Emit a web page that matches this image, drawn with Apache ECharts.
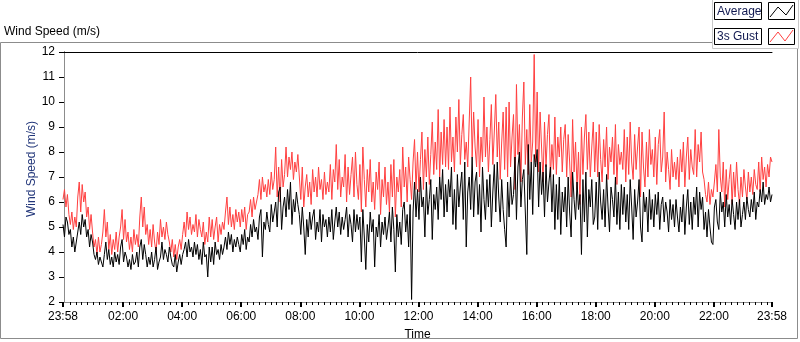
<!DOCTYPE html>
<html><head><meta charset="utf-8">
<script src="https://cdn.jsdelivr.net/npm/echarts@6/dist/echarts.min.js"></script>
<style>html,body{margin:0;padding:0;background:#fff}#c{width:800px;height:342px}</style>
</head><body><div id="c"></div>
<script>
// Samples every 3 minutes, starting at 23:58 (minute -2 of the day); one row per hour
const startMin = -2, stepMin = 3;
const avgSpeed = [
5.1,4.6,5.4,5.2,4.7,4.9,4.2,4.6,4.0,4.4,4.8,5.2,4.7,5.5,5.0,5.3,4.6,4.9,4.2,4.7,
4.4,3.9,3.7,4.0,3.5,3.8,3.6,3.4,3.9,4.4,3.7,4.1,3.5,3.8,3.4,4.0,3.6,3.9,3.5,4.2,
4.5,3.6,4.0,3.8,3.4,3.7,3.3,3.9,3.5,3.6,4.0,3.4,4.2,4.5,3.7,4.3,3.9,3.4,3.8,3.5,
4.0,3.4,3.7,4.2,3.3,3.6,3.8,4.4,3.7,4.1,3.9,3.6,4.2,3.8,3.5,3.4,3.9,3.2,3.6,3.9,
3.5,3.9,4.1,4.4,3.8,4.5,4.0,4.2,3.8,4.4,3.9,4.3,3.7,4.1,3.5,4.4,3.8,3.9,3.0,4.2,
3.6,4.2,3.5,4.4,3.9,4.1,3.7,4.3,3.9,4.2,4.6,4.1,4.8,4.3,4.7,4.0,4.5,4.2,4.6,4.3,
4.0,4.7,4.3,4.9,4.1,4.6,4.4,5.1,4.6,5.3,4.8,5.0,4.5,5.4,5.7,3.8,5.2,4.9,5.6,5.1,
4.8,5.9,5.2,5.6,6.0,5.0,6.4,6.6,4.9,5.8,6.2,5.4,6.5,5.7,6.8,5.1,6.1,5.6,6.4,5.9,
5.5,4.7,5.8,5.0,3.9,5.3,4.6,5.6,4.9,5.4,5.7,4.5,5.2,4.8,5.7,4.4,5.5,5.0,5.3,4.6,
5.4,4.8,5.7,4.5,5.2,5.8,5.0,5.6,4.7,5.4,4.9,5.3,5.8,4.6,5.5,5.1,4.4,5.7,4.8,5.5,
4.9,5.4,3.6,5.7,4.6,3.3,5.1,4.4,5.6,4.8,5.3,3.4,5.0,4.6,5.5,4.2,5.2,4.7,5.4,4.5,
5.0,5.6,4.4,5.8,4.9,3.2,5.5,4.6,5.2,4.3,5.7,6.0,4.8,5.5,4.2,5.9,2.1,5.6,6.8,5.4,
6.5,5.3,7.0,5.8,6.2,4.6,6.8,5.5,6.1,6.9,4.5,6.3,5.7,6.6,5.3,7.0,6.1,7.3,5.4,6.7,
5.6,6.9,6.2,7.4,5.1,6.5,4.9,7.1,5.8,6.6,7.2,5.3,7.6,4.2,6.4,7.0,5.7,7.8,5.4,6.8,
7.2,5.5,6.7,4.8,7.4,6.1,5.3,6.9,5.8,7.1,5.0,6.4,7.5,5.6,7.6,6.2,5.2,6.9,5.7,4.9,
4.2,6.8,5.4,7.0,5.9,6.3,7.8,5.3,7.4,8.0,5.8,6.9,7.3,5.6,3.9,8.3,6.1,7.6,5.5,7.9,
7.4,8.1,5.8,7.6,6.3,7.2,5.4,7.5,6.0,6.8,7.4,5.6,7.1,4.9,6.7,5.3,7.0,4.7,6.4,5.6,
6.6,5.0,7.0,5.6,4.6,7.2,6.1,5.3,6.8,5.7,6.3,3.9,6.9,5.2,7.2,4.6,6.5,5.8,6.9,5.1,
5.4,6.8,4.9,7.2,6.0,5.3,6.5,5.0,7.1,5.8,4.8,6.6,6.1,5.4,7.0,5.1,6.4,4.9,6.7,5.5,
6.6,5.2,6.3,4.9,6.9,5.8,4.5,6.5,5.4,6.0,6.9,5.0,4.4,6.4,5.6,6.2,4.8,6.5,5.3,6.1,
5.0,6.3,5.5,6.4,4.9,5.9,6.2,5.2,6.0,5.6,4.8,6.1,5.3,5.9,5.0,6.1,5.4,4.8,5.8,5.2,
6.3,4.7,5.8,6.5,5.1,6.0,4.9,6.2,5.5,6.6,5.0,6.4,5.7,6.2,4.9,5.6,4.6,5.7,5.0,4.4,
4.3,5.8,6.1,5.2,4.9,6.4,5.6,6.0,5.0,6.3,5.4,5.9,5.1,6.1,5.5,4.9,6.0,5.3,6.1,5.0,
5.5,6.0,5.3,6.2,5.7,5.4,6.1,5.6,6.4,5.3,6.0,5.8,6.5,6.0,6.8,5.9,6.3,6.1,6.6,6.0,6.3
];
const gustSpeed = [
6.1,6.5,5.8,6.3,5.5,5.1,5.6,4.9,5.4,5.0,6.2,6.8,5.6,6.7,6.0,6.4,5.4,5.8,4.9,5.5,
4.8,4.2,4.5,3.9,4.6,4.0,4.3,4.8,5.7,4.6,5.2,4.1,4.7,3.9,4.5,4.1,4.8,4.0,4.6,5.0,
5.7,4.5,5.3,4.4,4.8,4.1,4.6,4.0,4.9,4.3,4.7,4.2,5.4,6.2,5.0,5.8,4.7,5.1,4.3,4.9,
4.2,5.1,4.4,4.0,4.8,4.3,5.3,4.6,5.0,4.5,5.2,4.7,4.4,4.0,4.5,3.8,4.3,3.7,4.2,4.5,
4.1,4.7,5.2,4.6,5.6,4.9,5.4,4.7,5.1,4.8,5.5,4.6,5.3,4.9,4.6,5.2,4.3,4.8,4.4,5.4,
4.6,5.3,4.5,5.0,5.4,4.4,5.1,4.7,5.2,4.9,5.6,6.2,5.1,5.8,5.0,5.5,4.9,5.7,5.2,5.6,
5.0,5.7,5.2,5.8,4.9,5.5,5.6,6.1,5.4,6.2,5.7,6.0,6.3,6.9,6.1,7.0,6.4,6.7,6.2,6.9,
6.3,7.2,6.5,6.9,8.2,6.2,7.4,6.0,7.7,6.6,7.1,8.2,7.0,7.8,7.3,8.0,6.9,7.6,7.2,7.9,
7.0,6.1,7.4,5.8,6.6,7.1,6.2,6.8,5.9,7.3,6.4,7.0,6.2,7.4,6.5,6.9,6.1,7.2,6.3,6.8,
6.4,7.5,6.1,7.3,6.8,8.3,6.5,7.7,6.2,7.0,6.6,7.9,6.0,7.4,6.3,7.1,7.8,6.2,8.0,6.7,
6.1,7.5,5.6,8.2,6.9,5.8,7.3,6.4,7.7,6.0,6.8,5.7,7.2,6.5,7.6,5.5,6.9,6.2,7.4,5.9,
6.8,5.6,7.5,6.2,7.7,5.4,7.0,6.4,7.3,5.8,8.2,6.6,7.4,6.0,7.8,6.9,6.1,7.6,8.5,6.5,
8.0,6.4,7.7,8.8,6.5,8.1,7.0,8.6,6.7,7.9,9.2,7.1,8.4,7.3,9.7,7.0,8.8,7.5,9.3,7.4,
9.0,7.3,9.8,7.6,8.6,7.2,9.4,8.0,10.1,7.5,8.7,9.5,7.7,8.4,7.4,9.2,11.0,7.8,9.6,8.2,
7.4,9.3,7.0,8.6,7.6,10.2,7.8,9.0,7.2,8.5,9.9,7.5,8.8,10.3,7.8,9.2,6.9,8.4,9.6,7.3,
9.8,7.0,10.0,7.4,8.6,9.5,6.5,10.7,7.9,9.1,6.8,9.4,10.8,7.5,8.9,7.1,9.9,7.6,8.4,11.9,
7.6,10.4,7.2,9.6,8.2,6.8,9.2,7.4,8.7,9.5,7.0,8.3,7.3,9.4,7.1,8.6,7.8,9.0,7.2,8.5,
9.1,7.0,8.7,7.6,6.2,9.3,7.2,8.4,6.5,8.0,5.9,9.0,7.1,8.6,9.5,7.3,8.8,7.0,8.2,9.2,
7.2,8.8,7.0,9.1,7.7,6.8,8.5,7.4,9.0,6.9,8.2,7.6,8.6,7.1,9.1,6.7,8.3,7.5,8.0,7.3,
8.9,6.8,8.6,7.1,9.2,7.6,6.9,8.7,7.3,8.2,9.0,6.2,8.8,7.4,6.6,8.4,7.0,8.9,7.5,8.1,
7.0,8.6,6.7,8.3,8.9,7.2,7.8,9.6,6.8,8.0,7.3,6.5,8.1,7.0,7.6,6.9,7.8,6.6,8.1,7.2,
8.4,6.6,7.8,8.6,6.9,8.1,7.4,7.1,8.9,7.0,8.3,7.6,8.8,7.2,6.9,6.3,6.0,6.8,5.9,6.5,
6.2,6.8,7.5,6.4,8.9,7.0,6.4,7.6,5.8,7.3,6.1,6.9,7.5,5.9,7.2,6.2,7.6,6.5,5.9,7.0,
6.2,7.3,6.6,6.1,7.2,6.4,7.0,6.3,7.3,6.7,6.5,7.6,6.4,7.8,6.9,7.4,6.6,7.5,7.0,7.8,7.6
];
const majorTickMins = [-2,120,240,360,480,600,720,840,960,1080,1200,1320,1438];
const majorTickLabels = ['23:58','02:00','04:00','06:00','08:00','10:00','12:00','14:00','16:00','18:00','20:00','22:00','23:58'];
const minorTickMins = [];
for (let m = 12; m < 1438; m += 12) { if (m % 120 !== 0) minorTickMins.push(m); }

const xMin = -2, xMax = 1438;
const avgData = avgSpeed.map((v, i) => [startMin + i * stepMin, v]);
const gustData = gustSpeed.map((v, i) => [startMin + i * stepMin, v]);
const FONT = 'Liberation Sans';

const chart = echarts.init(document.getElementById('c'), null, {renderer: 'canvas'});
chart.setOption({
  animation: false,
  backgroundColor: '#fff',
  textStyle: {fontFamily: FONT},
  grid: {left: 63, right: 28, top: 52, bottom: 40, containLabel: false, outerBoundsMode: 'none'},
  xAxis: [
    {
      type: 'value', min: xMin, max: xMax, position: 'bottom',
      name: 'Time', nameLocation: 'middle', nameGap: 27, nameMoveOverlap: false,
      nameTextStyle: {fontFamily: FONT, fontSize: 12, color: '#000'},
      axisLine: {show: true, lineStyle: {color: '#8c8c8c', width: 1}},
      axisTick: {show: true, customValues: majorTickMins, length: 5, lineStyle: {color: '#000', width: 2}},
      axisLabel: {show: true, customValues: majorTickMins, margin: 9, fontFamily: FONT, fontSize: 12, color: '#000',
        formatter: v => { const k = majorTickMins.indexOf(Math.round(v)); return k >= 0 ? majorTickLabels[k] : ''; }},
      splitLine: {show: false}
    },
    {
      type: 'value', min: xMin, max: xMax, position: 'bottom',
      axisLine: {show: false},
      axisTick: {show: true, customValues: minorTickMins, length: 3, lineStyle: {color: '#000', width: 1}},
      axisLabel: {show: false},
      splitLine: {show: false}
    },
    {
      type: 'value', min: xMin, max: xMax, position: 'top',
      axisLine: {show: true, lineStyle: {color: '#000', width: 1}},
      axisTick: {show: false}, axisLabel: {show: false}, splitLine: {show: false}
    }
  ],
  yAxis: [
    {
      type: 'value', min: 2, max: 12, interval: 1, position: 'left',
      name: 'Wind Speed (m/s)', nameLocation: 'middle', nameGap: 25, nameRotate: 90, nameMoveOverlap: false,
      nameTextStyle: {fontFamily: FONT, fontSize: 12, color: '#22367a', padding: [0, 0, 0, 16]},
      axisLine: {show: true, lineStyle: {color: '#000', width: 1}},
      axisTick: {show: true, length: 5, lineStyle: {color: '#000', width: 1}},
      axisLabel: {margin: 8, fontFamily: FONT, fontSize: 12, color: '#000'},
      splitLine: {show: false}
    },
    {
      type: 'value', min: 2, max: 12, position: 'right',
      axisLine: {show: true, lineStyle: {color: '#8c8c8c', width: 1}},
      axisTick: {show: false}, axisLabel: {show: false}, splitLine: {show: false}
    }
  ],
  series: [
    {name: '3s Gust', type: 'line', data: gustData, xAxisIndex: 0, yAxisIndex: 0,
     showSymbol: false, symbol: 'none', lineStyle: {color: '#ff4040', width: 1}, z: 2},
    {name: 'Average', type: 'line', data: avgData, xAxisIndex: 0, yAxisIndex: 0,
     showSymbol: false, symbol: 'none', lineStyle: {color: '#000', width: 1}, z: 3}
  ],
  graphic: [
    {type: 'rect', shape: {x: 0.5, y: 42.5, width: 797, height: 296}, style: {fill: null, stroke: '#8c8c8c', lineWidth: 1}, z: 1},
    {type: 'rect', shape: {x: 712.5, y: -1, width: 86, height: 49.5}, style: {fill: '#fff', stroke: '#c8c8c8', lineWidth: 1}, z: 5},
    {type: 'text', x: 4, y: 32, style: {text: 'Wind Speed (m/s)', font: '12px "Liberation Sans"', fill: '#000', verticalAlign: 'middle'}, z: 5},
    {type: 'rect', shape: {x: 714.5, y: 2.5, width: 47, height: 17}, style: {fill: '#fff', stroke: '#000', lineWidth: 1}, z: 6},
    {type: 'text', x: 717, y: 11.5, style: {text: 'Average', font: '12px "Liberation Sans"', fill: '#101850', verticalAlign: 'middle'}, z: 7},
    {type: 'rect', shape: {x: 768.5, y: 2.5, width: 26, height: 17}, style: {fill: '#fff', stroke: '#000', lineWidth: 1}, z: 6},
    {type: 'polyline', shape: {points: [[770, 17], [778, 7], [786, 15], [793, 5]]}, style: {stroke: '#000', lineWidth: 1, fill: null}, z: 7},
    {type: 'rect', shape: {x: 714.5, y: 28.5, width: 47, height: 16}, style: {fill: '#fff', stroke: '#000', lineWidth: 1}, z: 6},
    {type: 'text', x: 717, y: 37, style: {text: '3s Gust', font: '12px "Liberation Sans"', fill: '#101850', verticalAlign: 'middle'}, z: 7},
    {type: 'rect', shape: {x: 768.5, y: 28.5, width: 26, height: 16}, style: {fill: '#fff', stroke: '#000', lineWidth: 1}, z: 6},
    {type: 'polyline', shape: {points: [[770, 42], [778, 32], [785, 41], [793, 30]]}, style: {stroke: '#ff4040', lineWidth: 1, fill: null}, z: 7}
  ]
});
</script>
</body></html>
